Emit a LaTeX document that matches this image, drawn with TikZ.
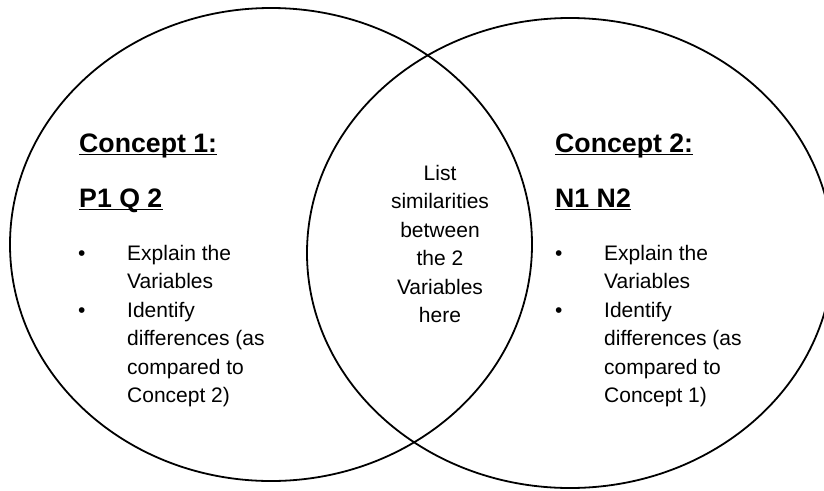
\documentclass[tikz,border=0pt]{standalone}
\usepackage{fontspec}
\setmainfont{Liberation Sans}
\begin{document}
\begin{tikzpicture}[x=1pt,y=-1pt,
  ring/.style={line width=1.8pt},
  heading/.style={inner sep=0pt,anchor=base west,font=\bfseries\fontsize{26.7}{32}\selectfont},
  body/.style={inner sep=0pt,anchor=base west,align=left,font=\fontsize{21}{28.5}\selectfont},
  mid/.style={inner sep=0pt,anchor=base,align=center,font=\fontsize{21}{28.5}\selectfont},
  bul/.style={inner sep=0pt,anchor=base west,font=\fontsize{21}{28.5}\selectfont},
  uline/.style={line width=1.6pt}]
\clip (0,0) rectangle (824,490);
\fill[white] (0,0) rectangle (824,490);
% ellipses
\draw[ring] (271,244.5) ellipse [x radius=261, y radius=236.5];
\draw[ring] (570,253) ellipse [x radius=263, y radius=235];
% left (multi-line nodes are anchored at the baseline of their last line)
\node[heading] (c1) at (79,152) {Concept 1:};
\node[heading] (p1) at (79,207) {P1 Q 2};
\draw[uline] ([yshift=-2.5pt]c1.base west) -- ([yshift=-2.5pt]c1.base east);
\draw[uline] ([yshift=-2.5pt]p1.base west) -- ([yshift=-2.5pt]p1.base east);
\node[bul] (lb1) at (78,260) {•};
\node[bul] (lb2) at (78,317) {•};
\node[body] (lt1) at (127,288.5) {Explain the\\Variables};
\node[body] (lt2) at (127,402.5) {Identify\\differences (as\\compared to\\Concept 2)};
% middle
\node[mid] (m) at (440,322.5) {List\\similarities\\between\\the 2\\Variables\\here};
% right
\node[heading] (c2) at (555,152) {Concept 2:};
\node[heading] (n1) at (555,207) {N1 N2};
\draw[uline] ([yshift=-2.5pt]c2.base west) -- ([yshift=-2.5pt]c2.base east);
\draw[uline] ([yshift=-2.5pt]n1.base west) -- ([yshift=-2.5pt]n1.base east);
\node[bul] (rb1) at (555,260) {•};
\node[bul] (rb2) at (555,317) {•};
\node[body] (rt1) at (604,288.5) {Explain the\\Variables};
\node[body] (rt2) at (604,402.5) {Identify\\differences (as\\compared to\\Concept 1)};
\end{tikzpicture}
\end{document}
